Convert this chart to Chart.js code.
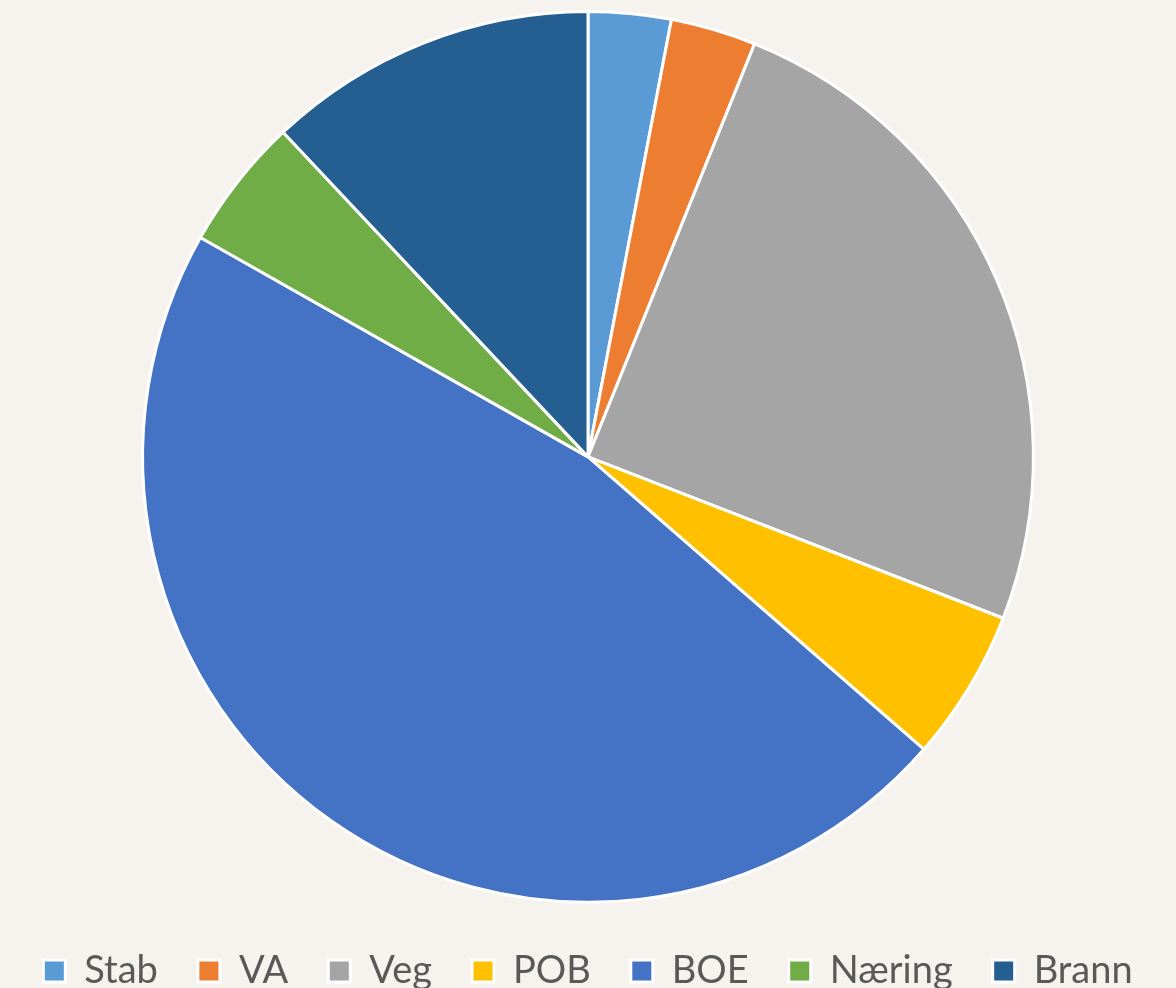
<!DOCTYPE html>
<html>
<head>
<meta charset="utf-8">
<script src="https://cdn.jsdelivr.net/npm/chart.js@4"></script>
<style>
  html, body { margin: 0; padding: 0; background: #f6f3ee; }
  #wrap { width: 1176px; height: 988px; }
</style>
</head>
<body>
<div id="wrap"><canvas id="chart"></canvas></div>
<script>
const categories = ["Stab", "VA", "Veg", "POB", "BOE", "Næring", "Brann"]
const values = [3.0, 3.1, 24.8, 5.5, 46.8, 4.8, 12.0]
const colors = ["#5b9bd5", "#ed7d31", "#a5a5a5", "#ffc000", "#4472c4", "#70ad47", "#255e91"]

new Chart(document.getElementById("chart"), {
  type: "pie",
  data: {
    labels: categories,
    datasets: [
      {
        data: values,
        backgroundColor: colors,
        borderColor: "#ffffff",
        borderWidth: 3,
      },
    ],
  },
  options: {
    animation: false,
    responsive: true,
    maintainAspectRatio: false,
    layout: { padding: { top: 10, bottom: -12 } },
    plugins: {
      tooltip: { enabled: false },
      legend: {
        position: "bottom",
        // empty title only used as spacer above the legend row
        title: { display: true, text: "", font: { size: 1 }, padding: { top: 4, bottom: 3 } },
        labels: {
          color: "#595959",
          font: { family: "Lato", size: 38 },
          boxWidth: 22,
          boxHeight: 22,
          padding: 40,
        },
      },
    },
  },
})
</script>
</body>
</html>
